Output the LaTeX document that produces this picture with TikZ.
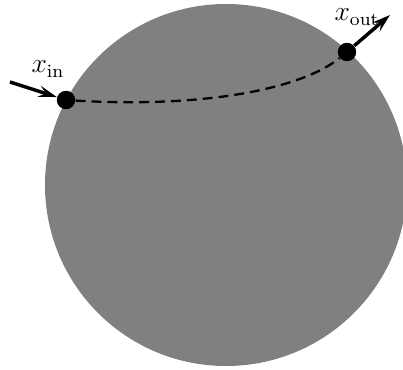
\documentclass[tikz,border=0pt]{standalone}
\usetikzlibrary{arrows.meta}

\begin{document}
\begin{tikzpicture}[x=0.434pt,y=-0.434pt,
    dot/.style={circle,fill=black,inner sep=0pt,minimum size=8pt},
    flow/.style={line width=1.5pt,-{Stealth[length=8pt,width=5pt,inset=3pt]}}]
    \useasboundingbox (0,0) rectangle (403,370);
    % domain
    \fill[black!50] (226,185) circle (181);
    % entry and exit points
    \node[dot] (in)  at (66,100) {};
    \node[dot] (out) at (347,52) {};
    \coordinate (src) at (10,82);
    \coordinate (dst) at (390,15);
    % path through the domain
    \draw[dashed,line width=1pt,dash pattern=on 4.3pt off 2.6pt]
      (in) .. controls (200,108) and (300,90) .. (out);
    % in and out flows
    \draw[flow] (src) -- (in);
    \draw[flow] (out) -- (dst);
    \node (lin)  at (48,69) {\large $x_{\mathrm{in}}$};
    \node (lout) at (357,17) {\large $x_{\mathrm{out}}$};
\end{tikzpicture}
\end{document}
